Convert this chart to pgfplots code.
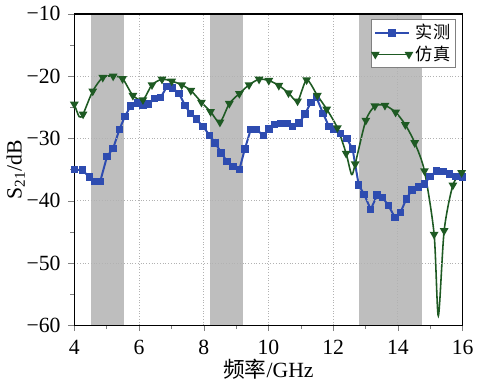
\documentclass[border=0pt]{standalone}
\usepackage{pgfplots}
\pgfplotsset{compat=1.18}
\usepackage{fontspec}
\setmainfont{Liberation Serif}
\newfontfamily\cjk{Noto Sans CJK SC}
\definecolor{meas}{RGB}{46,76,176}
\definecolor{sim}{RGB}{30,90,35}
\definecolor{shade}{RGB}{190,190,190}
\begin{document}
\begin{tikzpicture}
\begin{axis}[
  width=197pt, height=158pt, scale only axis,
  xmin=4, xmax=16, ymin=-60, ymax=-10,
  xtick={4,6,...,16},
  xticklabels={4,6,8,10,12,14,16},
  ytick={-60,-50,...,-10},
  yticklabels={−60,−50,−40,−30,−20,−10},
  minor x tick num=1, minor y tick num=1,
  tick align=outside, xtick pos=bottom, ytick pos=left,
  major tick length=3pt, minor tick length=2pt,
  /pgf/number format/assume math mode=true,
  tick label style={font=\rmfamily\fontsize{11}{12}\selectfont},
  xticklabel style={yshift=-1pt},
  yticklabel style={xshift=-0.5pt},
  label style={font=\rmfamily\fontsize{11}{12}\selectfont},
  xlabel={{\cjk 频率}/GHz},
  ylabel={S\textsubscript{21}/dB},
  xlabel style={yshift=4.5pt},
  ylabel style={yshift=-6pt},
  grid=major,
  major grid style={densely dotted, gray!60, line width=0.4pt},
  axis on top,
  axis line style={line width=0.7pt},
  legend style={at={(1,1)}, anchor=north east, xshift=-3.5pt, yshift=-2.5pt,
    font=\fontsize{8.7}{9}\selectfont\cjk, draw=gray, line width=0.5pt,
    inner sep=0.5pt, row sep=-2pt},
  legend cell align=left,
]
\addplot[fill=shade, draw=none, forget plot] coordinates {(4.5,-60) (4.5,-10) (5.55,-10) (5.55,-60)} -- cycle;
\addplot[fill=shade, draw=none, forget plot] coordinates {(8.2,-60) (8.2,-10) (9.22,-10) (9.22,-60)} -- cycle;
\addplot[fill=shade, draw=none, forget plot] coordinates {(12.8,-60) (12.8,-10) (14.75,-10) (14.75,-60)} -- cycle;

\addplot[meas, line width=1pt, mark=square*, mark size=1.4pt, mark options={solid, fill=meas}] coordinates {
(4.00,-35.0) (4.25,-35.1) (4.47,-36.2) (4.63,-36.9) (4.80,-36.9) (5.01,-32.9)
(5.20,-31.6) (5.39,-28.6) (5.56,-26.5) (5.74,-24.8) (5.95,-24.3) (6.13,-24.7)
(6.30,-24.5) (6.48,-23.6) (6.67,-23.4) (6.86,-21.7) (7.04,-21.9) (7.24,-22.8)
(7.42,-24.7) (7.59,-26.0) (7.77,-26.9) (7.98,-28.1) (8.18,-29.5) (8.35,-30.7)
(8.54,-32.3) (8.72,-33.7) (8.91,-34.5) (9.10,-35.0) (9.27,-31.7) (9.45,-28.6)
(9.63,-28.6) (9.84,-29.5) (10.01,-28.5) (10.18,-27.8) (10.37,-27.6) (10.57,-27.6)
(10.75,-28.1) (10.95,-27.5) (11.13,-26.1) (11.31,-24.2) (11.48,-23.4) (11.69,-26.0)
(11.87,-28.1) (12.03,-28.6) (12.22,-29.2) (12.42,-30.0) (12.60,-31.7) (12.79,-37.5)
(12.96,-39.0) (13.16,-41.4) (13.36,-39.1) (13.53,-39.5) (13.71,-40.8) (13.91,-42.7)
(14.08,-41.9) (14.26,-39.7) (14.43,-38.3) (14.63,-37.8) (14.83,-37.3) (14.99,-36.1)
(15.20,-35.2) (15.40,-35.3) (15.60,-35.7) (15.80,-36.1) (16.00,-36.2)
};
\addlegendentry{实测}

\addplot[sim, line width=0.8pt, smooth, tension=0.45, mark=triangle*, mark size=1.8pt,
  mark options={solid, fill=sim, rotate=180},
  mark indices={1,3,4,5,6,7,8,9,10,11,12,13,14,15,16,17,18,19,20,21,22,23,24,25,26,27,28,29,30,32,33,34,35,36,37,38,39,40,42,43,44}] coordinates {
(4.00,-24.5) (4.15,-26.5) (4.27,-26.1) (4.57,-22.4) (4.88,-20.2) (5.20,-20.0)
(5.49,-20.4) (5.81,-23.1) (6.12,-23.8) (6.40,-21.4) (6.71,-20.5) (7.01,-20.8)
(7.32,-21.4) (7.60,-22.3) (7.93,-24.2) (8.21,-25.7) (8.50,-27.4) (8.79,-24.4)
(9.10,-22.8) (9.40,-21.4) (9.71,-20.5) (10.01,-20.7) (10.32,-21.5) (10.62,-22.7)
(10.90,-24.0) (11.18,-20.6) (11.51,-23.1) (11.80,-25.3) (12.13,-28.3) (12.40,-32.4)
(12.57,-35.8) (12.68,-34.1) (13.01,-27.1) (13.29,-24.8) (13.60,-24.7) (13.93,-25.8)
(14.23,-27.8) (14.52,-30.7) (14.82,-35.2) (15.12,-45.4) (15.25,-58.5) (15.43,-44.8)
(15.70,-37.5) (15.97,-35.5)
};
\addlegendentry{仿真}
\end{axis}
\end{tikzpicture}
\end{document}
